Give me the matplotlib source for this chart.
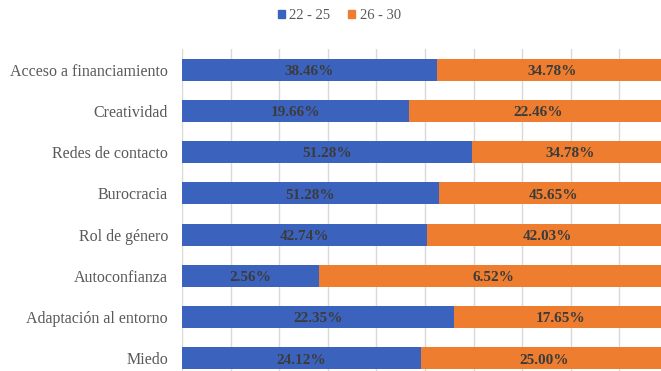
import matplotlib.pyplot as plt
import numpy as np
from matplotlib.patches import Patch

categorias = ["Acceso a financiamiento", "Creatividad", "Redes de contacto", "Burocracia",
              "Rol de género", "Autoconfianza", "Adaptación al entorno", "Miedo"]
grupo_22_25 = [38.46, 19.66, 51.28, 51.28, 42.74, 2.56, 22.35, 24.12]
grupo_26_30 = [34.78, 22.46, 34.78, 45.65, 42.03, 6.52, 17.65, 25.00]

AZUL = "#3b63be"
NARANJA = "#ee7d30"
SERIF = ["Liberation Serif", "DejaVu Serif"]

a = np.array(grupo_22_25)
b = np.array(grupo_26_30)
tot = a + b
fa = a / tot
fb = b / tot
y = np.arange(len(categorias))

fig = plt.figure(figsize=(6.61, 3.71), dpi=100)
# axes runs past the right and bottom edge, the original picture is cropped
ax = fig.add_axes([182/661, -8/371, 486/661, 330/371])

ax.barh(y, fa, height=0.53, color=AZUL, zorder=3)
ax.barh(y, fb, left=fa, height=0.53, color=NARANJA, zorder=3)

for i in range(len(categorias)):
    ax.text(fa[i] / 2, y[i] + 0.04, "%.2f%%" % grupo_22_25[i], ha="center", va="center",
            fontsize=11, fontweight="bold", color="#3b3b3b", family=SERIF, zorder=4)
    ax.text(fa[i] + fb[i] / 2, y[i] + 0.04, "%.2f%%" % grupo_26_30[i], ha="center", va="center",
            fontsize=11, fontweight="bold", color="#3b3b3b", family=SERIF, zorder=4)

ax.set_xlim(0, 1)
ax.set_ylim(len(categorias) - 0.5, -0.5)
ax.set_xticks(np.arange(0, 1.01, 0.1))
ax.set_xticklabels([])
ax.set_yticks(y)
ax.set_yticklabels(categorias, family=SERIF, fontsize=11.5, color="#595959")
ax.tick_params(length=0, pad=10)
ax.grid(axis="x", color="#d9d9d9", linewidth=1, zorder=0)
for s in ax.spines.values():
    s.set_visible(False)

handles = [Patch(color=AZUL, label="22 - 25"), Patch(color=NARANJA, label="26 - 30")]
leg = fig.legend(handles=handles, loc="upper center", bbox_to_anchor=(0.513, 1.01), ncol=2,
                 frameon=False, handlelength=0.5, handleheight=0.5, handletextpad=0.3,
                 columnspacing=1.2, prop={"family": SERIF, "size": 10.5})
for t in leg.get_texts():
    t.set_color("#595959")

fig.savefig("out.png", dpi=100)
